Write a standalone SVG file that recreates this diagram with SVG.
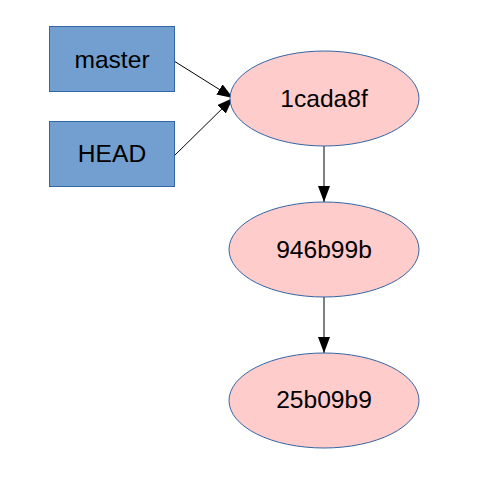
<svg xmlns="http://www.w3.org/2000/svg" width="480" height="480" viewBox="0 0 480 480">
<defs>
<style>
.box{fill:#729fcf;stroke:#3465a4;stroke-width:1}
.commit{fill:#ffcccc;stroke:#3465a4;stroke-width:1}
.lbl{font-family:"Liberation Sans",Arial,sans-serif;font-size:24.6px;fill:#000;text-anchor:middle}
.edge{stroke:#000;stroke-width:1;fill:none;marker-end:url(#ah)}
</style>
<marker id="ah" markerUnits="userSpaceOnUse" markerWidth="16" markerHeight="12" viewBox="0 0 16 12" refX="16" refY="6" orient="auto">
<path d="M0,0 L16,6 L0,12 Z" fill="#000"/>
</marker>
</defs>
<rect width="480" height="480" fill="#fff"/>
<g id="connectors">
<line class="edge" x1="174" y1="61" x2="233" y2="98"/>
<line class="edge" x1="174" y1="156" x2="233" y2="98"/>
<line class="edge" x1="324" y1="146" x2="324" y2="202"/>
<line class="edge" x1="324" y1="297" x2="324" y2="353"/>
</g>
<g id="master">
<rect class="box" x="49.5" y="26.5" width="125" height="65"/>
<text class="lbl" x="112" y="68">master</text>
</g>
<g id="HEAD">
<rect class="box" x="49.5" y="121.5" width="125" height="65"/>
<text class="lbl" x="112" y="162">HEAD</text>
</g>
<g id="c1cada8f">
<ellipse class="commit" cx="324.5" cy="98.5" rx="94.5" ry="47.5"/>
<text class="lbl" x="324" y="107">1cada8f</text>
</g>
<g id="c946b99b">
<ellipse class="commit" cx="324" cy="249.5" rx="95" ry="47.5"/>
<text class="lbl" x="324" y="258">946b99b</text>
</g>
<g id="c25b09b9">
<ellipse class="commit" cx="324" cy="400.5" rx="95" ry="47.5"/>
<text class="lbl" x="324" y="408">25b09b9</text>
</g>
</svg>
